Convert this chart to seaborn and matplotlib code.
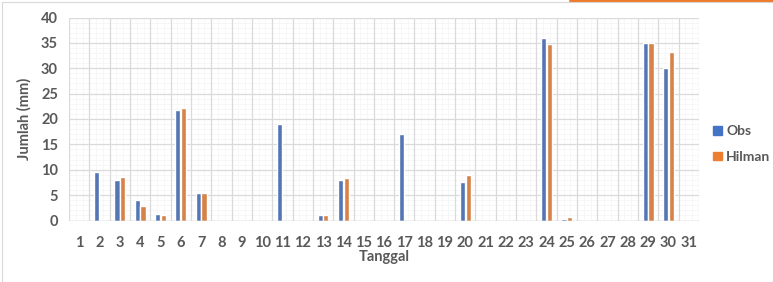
import numpy as np
import pandas as pd
import matplotlib.pyplot as plt
import seaborn as sns
from matplotlib.patches import Rectangle
from matplotlib.lines import Line2D

# data
tanggal = [str(d) for d in range(1, 32)]
obs = [0, 9.5, 8, 4, 1.2, 21.8, 5.4, 0, 0, 0,
       19, 0, 1, 8, 0, 0, 17, 0, 0, 7.5,
       0, 0, 0, 36, 0.3, 0, 0, 0, 35, 30, 0]
hilman = [0, 0, 8.5, 2.8, 1.0, 22.1, 5.4, 0, 0, 0,
          0, 0, 1, 8.3, 0, 0, 0, 0, 0, 8.9,
          0, 0, 0, 34.7, 0.7, 0, 0, 0, 35, 33.2, 0]

df = pd.DataFrame({
    "Tanggal": tanggal * 2,
    "Jumlah": obs + hilman,
    "Seri": ["Obs"] * 31 + ["Hilman"] * 31,
})

sns.set_theme(style="white")
plt.rcParams["font.family"] = ["Lato", "DejaVu Sans"]
txt = "#595959"

fig = plt.figure(figsize=(7.73, 2.82), dpi=100)
ax = fig.add_axes([69 / 773, 1 - 220.5 / 282, 630 / 773, 203 / 282])

sns.barplot(data=df, x="Tanggal", y="Jumlah", hue="Seri", order=tanggal,
            palette={"Obs": "#4472C4", "Hilman": "#ED7D31"},
            width=0.56, gap=0.1, ax=ax, legend=False, zorder=3)

ax.set_xlim(-0.5, 30.5)
ax.set_ylim(0, 40)
ax.set_yticks(np.arange(0, 41, 5))

# faint minor grid
for v in np.arange(-0.5, 30.5, 1 / 3):
    ax.axvline(v, color="#f4f4f4", lw=0.5, zorder=0)
for v in np.arange(0, 41, 1):
    ax.axhline(v, color="#f4f4f4", lw=0.5, zorder=0)
# major grid
for v in np.arange(-0.5, 31, 1):
    ax.axvline(v, color="#dadada", lw=0.9, zorder=1)
for v in np.arange(0, 41, 5):
    ax.axhline(v, color="#dadada", lw=0.9, zorder=1)

for s in ax.spines.values():
    s.set_visible(False)
ax.axhline(0, color="#d0d0d0", lw=1, zorder=4)

ax.tick_params(axis="x", length=0, pad=11, labelsize=10.5, labelcolor=txt)
ax.tick_params(axis="y", length=0, pad=8, labelsize=10.5, labelcolor=txt)
for lab in ax.get_xticklabels() + ax.get_yticklabels():
    lab.set_fontweight("bold")

ax.set_xlabel("Tanggal", fontsize=10.5, fontweight="bold", color=txt, labelpad=0)
ax.set_ylabel("Jumlah (mm)", fontsize=10.5, fontweight="bold", color=txt, labelpad=7)

handles = [Rectangle((0, 0), 1, 1, color="#4472C4"),
           Rectangle((0, 0), 1, 1, color="#ED7D31")]
fig.legend(handles, ["Obs", "Hilman"], loc="center left",
           bbox_to_anchor=(709 / 773, 1 - 144 / 282), frameon=False,
           handlelength=0.6, handleheight=0.6, handletextpad=0.35,
           labelspacing=1.0, prop={"size": 10, "weight": "bold"},
           labelcolor=txt, borderaxespad=0, borderpad=0.3)

# chart border and selection line at top right
fig.patches.append(Rectangle((2 / 773, 0), 1, 1 - 2 / 282, transform=fig.transFigure,
                             fill=False, edgecolor="#d9d9d9", lw=0.8))
fig.lines.append(Line2D([570 / 773, 1], [1 - 0.5 / 282, 1 - 0.5 / 282],
                        transform=fig.transFigure, color="#ED7D31", lw=1.5))

fig.savefig("out.png", dpi=100)
